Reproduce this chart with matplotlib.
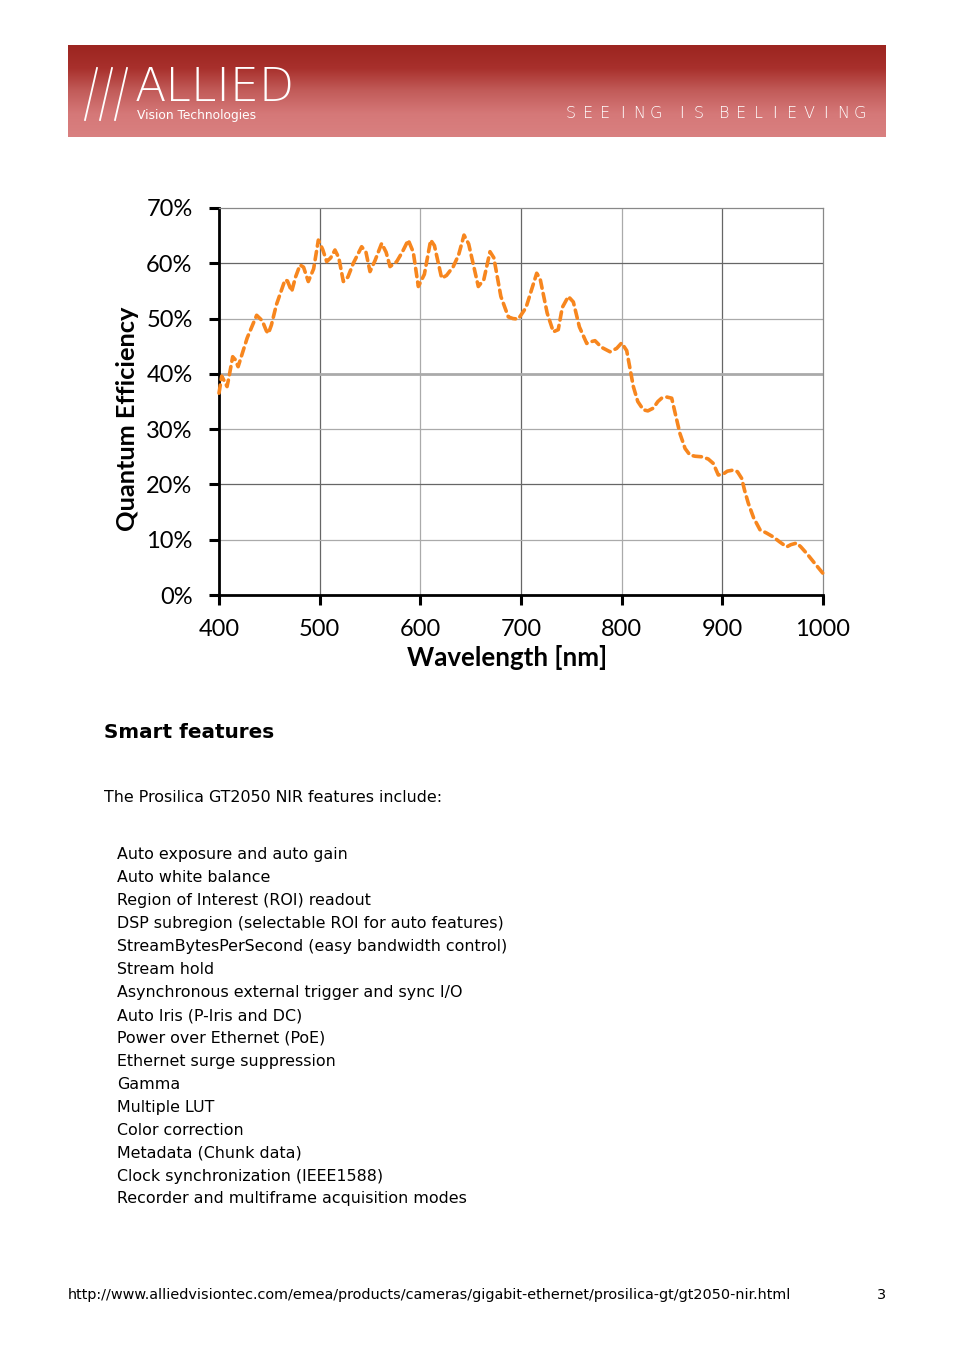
import numpy as np
import matplotlib
matplotlib.use('Agg')
import matplotlib.pyplot as plt
from matplotlib.colors import LinearSegmentedColormap

# quantum efficiency curve
wavelength = [400, 402.7, 405, 408, 410, 413.6, 416, 419, 428, 437.4, 443, 447, 449, 452,
              457, 465.6, 468, 472.2, 476, 480.5, 484, 488.7, 494, 498.7, 503, 507,
              511, 515.2, 519, 523.5, 528, 533.4, 541.7, 546, 550, 555, 561.6,
              566, 569.9, 576.5, 582, 588, 593, 598, 604, 610.3, 614, 621.2, 626,
              632.7, 638, 643.4, 648, 657.6, 663, 669.2, 673, 680, 687.4, 692, 697.3,
              705, 715.6, 719, 726, 732.1, 737, 741, 747, 752, 758, 765.3, 769,
              773.5, 780, 788.4, 795, 800, 805, 811.6, 816, 821.5, 826, 831.4, 836,
              839.7, 845, 849.7, 853, 857.9, 863, 867.9, 873, 879.5, 886, 891, 896,
              901, 905, 910.9, 915, 919.2, 922, 925.8, 931, 937.4, 944, 950.6, 957,
              963.9, 968, 973.9, 978, 983.9, 991, 1000]
qe = [36.5, 39.6, 38.8, 37.7, 39.5, 43.1, 42.6, 41.3, 46.5, 50.6, 49.6, 47.8, 47.3, 48.8,
      52.5, 57.0, 56.8, 54.9, 57.5, 59.7, 59.3, 56.7, 59.0, 64.2, 62.5, 60.3,
      61.0, 62.4, 61.0, 56.7, 57.5, 60.0, 63.0, 62.0, 58.5, 60.5, 63.6,
      62.0, 59.4, 60.3, 62.0, 64.2, 62.0, 55.8, 58.0, 64.2, 63.2, 57.3, 57.8,
      59.4, 61.5, 65.1, 63.5, 55.8, 57.0, 62.1, 61.0, 54.0, 50.3, 50.0, 49.9,
      52.0, 58.2, 57.2, 51.0, 47.6, 48.0, 52.0, 54.0, 53.0, 48.5, 45.5, 45.8,
      46.0, 44.8, 44.0, 44.6, 45.6, 44.2, 37.7, 35.0, 33.5, 33.3, 33.8, 35.0,
      35.6, 35.8, 35.6, 33.0, 29.2, 26.5, 25.3, 25.1, 25.0, 24.6, 23.8, 21.7,
      21.9, 22.4, 22.6, 22.3, 21.1, 19.0, 16.6, 14.0, 11.8, 11.2, 10.5, 9.6,
      8.7, 9.1, 9.4, 8.7, 7.5, 5.9, 3.9]

x_ticks = [400, 500, 600, 700, 800, 900, 1000]
y_ticks = [0, 10, 20, 30, 40, 50, 60, 70]

title = 'Smart features'
intro = 'The Prosilica GT2050 NIR features include:'
features = [
    'Auto exposure and auto gain',
    'Auto white balance',
    'Region of Interest (ROI) readout',
    'DSP subregion (selectable ROI for auto features)',
    'StreamBytesPerSecond (easy bandwidth control)',
    'Stream hold',
    'Asynchronous external trigger and sync I/O',
    'Auto Iris (P-Iris and DC)',
    'Power over Ethernet (PoE)',
    'Ethernet surge suppression',
    'Gamma',
    'Multiple LUT',
    'Color correction',
    'Metadata (Chunk data)',
    'Clock synchronization (IEEE1588)',
    'Recorder and multiframe acquisition modes',
]
footer = 'http://www.alliedvisiontec.com/emea/products/cameras/gigabit-ethernet/prosilica-gt/gt2050-nir.html'
slogan = ['SEEING', 'IS', 'BELIEVING']

W, H = 954, 1350


def fx(px):
    return px / W


def fy(py):
    return 1 - py / H


fig = plt.figure(figsize=(W / 100, H / 100), dpi=100)

# header banner with gradient
hax = fig.add_axes([fx(68), fy(137), fx(886) - fx(68), fy(45) - fy(137)])
cmap = LinearSegmentedColormap.from_list('hdr', ['#9c2520', '#a8302c', '#c25c5a', '#d57878', '#d98080'])
hax.imshow(np.linspace(0, 1, 200).reshape(-1, 1), aspect='auto', cmap=cmap,
           extent=[0, 1, 0, 1])
hax.set_axis_off()

for x0 in [85, 100, 115]:
    fig.add_artist(plt.Line2D([fx(x0), fx(x0 + 12)], [fy(120), fy(68)],
                              color='white', lw=1.3, transform=fig.transFigure))
fig.text(fx(135), fy(101), 'ALLIED', color='white', fontsize=33, family='DejaVu Sans',
         fontweight='light', va='baseline', ha='left')
fig.text(fx(137), fy(116), 'Vision Technologies', color='white', fontsize=8.8,
         family='DejaVu Sans Condensed', va='center', ha='left')
# spaced-out slogan, one letter at a time
step, word_gap = 17.0, 1.5
cx = 571
for wi, word in enumerate(slogan):
    for ch in word:
        fig.text(fx(cx), fy(114), ch, color='white', fontsize=11.5, family='DejaVu Sans',
                 fontweight='light', va='center', ha='center')
        cx += step
    cx += step * (word_gap - 1)

# chart
ax = fig.add_axes([fx(219), fy(595), fx(823) - fx(219), fy(208) - fy(595)])
ax.plot(wavelength, qe, color='#f7861e', lw=2.6, dashes=(2.3, 1.5),
        dash_capstyle='round', zorder=3, clip_on=False)
ax.set_xlim(400, 1000)
ax.set_ylim(0, 70)
ax.set_xticks(x_ticks)
ax.set_yticks(y_ticks)
ax.set_yticklabels([f'{v}%' for v in y_ticks])
for v in [500, 600, 700, 800, 900]:
    ax.axvline(v, color='#666666' if v in (500, 700, 900) else '#aaaaaa', lw=0.9, zorder=1)
for v in [10, 20, 30, 40, 50, 60]:
    ax.axhline(v, color='#666666' if v in (20, 60) else '#aaaaaa',
               lw=2.0 if v == 40 else 0.9, zorder=1)
for s in ['top', 'right']:
    ax.spines[s].set_color('#888888')
    ax.spines[s].set_linewidth(0.9)
for s in ['left', 'bottom']:
    ax.spines[s].set_linewidth(2)
ax.tick_params(axis='both', direction='out', length=7, width=2.2, labelsize=17)
ax.tick_params(axis='y', pad=12)
ax.tick_params(axis='x', pad=10)
for lab in ax.get_xticklabels() + ax.get_yticklabels():
    lab.set_family('Lato')
ax.set_xlabel('Wavelength [nm]', fontsize=18.6, fontweight='bold', family='Lato')
ax.set_ylabel('Quantum Efficiency', fontsize=18.3, fontweight='bold', family='Lato')
ax.xaxis.set_label_coords(0.477, -0.13)
ax.yaxis.set_label_coords(-0.133, 0.455)

# text below
fig.text(fx(104), fy(733), title, fontsize=14.4, fontweight='bold', family='DejaVu Sans',
         va='center', ha='left')
fig.text(fx(104), fy(798), intro, fontsize=11.4, family='DejaVu Sans', va='center', ha='left')
for i, item in enumerate(features):
    fig.text(fx(117), fy(855 + i * 22.93), item, fontsize=11.4, family='DejaVu Sans',
             va='center', ha='left')
fig.text(fx(68), fy(1295), footer, fontsize=10.4, family='DejaVu Sans Condensed', va='center', ha='left')
fig.text(fx(886), fy(1295), '3', fontsize=10.4, family='DejaVu Sans Condensed', va='center', ha='right')

fig.savefig('out.png', dpi=100)
